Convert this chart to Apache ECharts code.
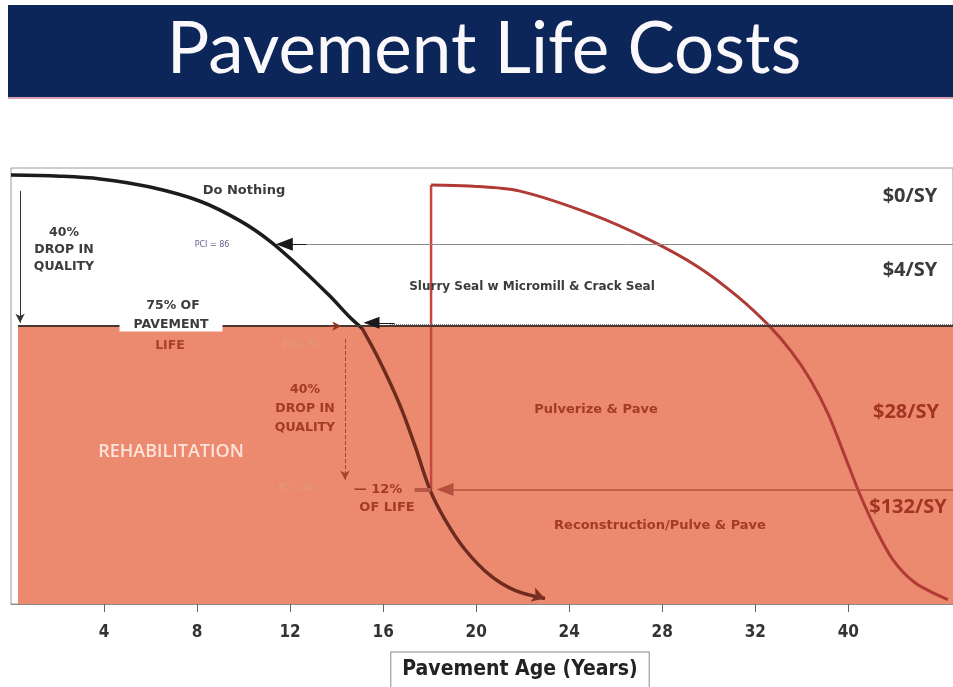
<!DOCTYPE html>
<html>
<head>
<meta charset="utf-8">
<script src="https://cdn.jsdelivr.net/npm/echarts@6/dist/echarts.min.js"></script>
<style>
  html, body { margin: 0; padding: 0; background: #fff; }
  #chart { width: 953px; height: 687px; }
</style>
</head>
<body>
<div id="chart"></div>
<script>
// tick positions (years) and the labels printed under them
var tickYears = [4, 8, 12, 16, 20, 24, 28, 32, 36];
var tickLabels = ['4', '8', '12', '16', '20', '24', '28', '32', '40'];

// "do nothing" deterioration curve [year, PCI]
var doNothing = [
  [0, 98.7], [2.1, 98.5], [3.83, 98.0], [5.98, 96.5], [8.13, 93.9], [9.85, 90.3],
  [11.13, 86.6], [12.42, 81.8], [13.71, 76.5], [14.57, 72.6], [15.09, 70.6],
  [15.86, 64.5], [16.72, 56.5], [17.37, 49], [18.01, 41], [18.66, 35.5],
  [19.52, 30], [20.59, 25.3], [21.67, 22.5], [22.96, 21.0]
];

// curve after treatment at year 18
var treated = [
  [18.06, 96.9], [19.69, 96.7], [21.84, 95.8], [24.97, 91.5], [27.41, 86.9],
  [29.56, 81.8], [31.27, 76.3], [32.65, 70.8], [33.55, 66.3], [34.36, 61.2],
  [35.14, 54.8], [35.91, 46.5], [36.51, 40.0], [37.15, 34.0], [37.92, 28.1],
  [38.87, 23.9], [40.28, 20.8]
];
var treatYear = 18.06;

// PCI levels marked on the chart
var pciLevels = [86, 71, 41];
var pciLabels = ['PCI = 86', 'PCI = 71', 'PCI = 41'];

var treatments = ['Do Nothing', 'Slurry Seal w Micromill & Crack Seal', 'Pulverize & Pave', 'Reconstruction/Pulve & Pave'];
var costs = ['$0/SY', '$4/SY', '$28/SY', '$132/SY'];

// split the do-nothing curve where it enters the rehabilitation band
var splitAt = 10;
var doNothingTop = doNothing.slice(0, splitAt + 1);
var doNothingLow = doNothing.slice(splitAt);

var myChart = echarts.init(document.getElementById('chart'));

var dark = '#3c3c3c';
var rust = '#a33c24';
var boldFont = "'DejaVu Sans', sans-serif";
var costFont = "'Open Sans', sans-serif";
var narrowFont = "'Liberation Sans Narrow', 'DejaVu Sans Condensed', sans-serif";

function txt(x, y, text, color, size, extra) {
  var style = {
    text: text, x: x, y: y, fill: color,
    font: 'bold ' + size + 'px ' + boldFont,
    align: 'center', verticalAlign: 'middle'
  };
  if (extra) {
    for (var k in extra) style[k] = extra[k];
  }
  return { type: 'text', z: 50, silent: true, style: style };
}

var option = {
  animation: false,
  grid: {
    left: 11, right: -2, top: 168, bottom: 83,
    show: true, borderColor: '#9a9a9a', borderWidth: 1, backgroundColor: '#fff'
  },
  xAxis: {
    type: 'value', min: 0, max: 40.5,
    splitLine: { show: false },
    axisLine: { show: true, lineStyle: { color: '#8a8a8a' } },
    axisTick: { show: true, customValues: tickYears, length: 8, lineStyle: { color: '#666' } },
    axisLabel: {
      customValues: tickYears, margin: 20,
      color: '#333', fontSize: 17, fontWeight: 'bold', fontFamily: narrowFont,
      formatter: function (v) { return tickLabels[tickYears.indexOf(v)]; }
    }
  },
  yAxis: {
    type: 'value', min: 20, max: 100, show: false
  },
  series: [
    {
      name: 'rehab', type: 'line', data: [[0, 20]], showSymbol: false, z: 1,
      lineStyle: { width: 0 },
      markArea: {
        silent: true,
        itemStyle: { color: '#ec8a6f' },
        data: [[{ coord: [0.3, 20] }, { coord: [40.5, pciLevels[1]] }]]
      },
      markLine: {
        silent: true, symbol: ['none', 'none'], label: { show: false },
        data: [
          // PCI 86 guide
          [{ coord: [40.5, pciLevels[0]], lineStyle: { color: '#8c8c8c', width: 1, type: 'solid' } },
           { coord: [12.6, pciLevels[0]] }],
          [{ coord: [12.7, pciLevels[0]], lineStyle: { color: '#1a1a1a', width: 1, type: 'solid' } },
           { coord: [11.75, pciLevels[0]], symbol: 'triangle', symbolSize: [13, 17] }],
          // rehabilitation threshold
          [{ coord: [0.3, pciLevels[1]], lineStyle: { color: '#4a3830', width: 2, type: 'solid' } },
           { coord: [40.5, pciLevels[1]] }],
          [{ coord: [40.5, pciLevels[1] + 0.4], lineStyle: { color: '#7a7a7a', width: 1, type: 'dotted' } },
           { coord: [16.3, pciLevels[1] + 0.4] }],
          [{ coord: [16.5, pciLevels[1] + 0.6], lineStyle: { color: '#1a1a1a', width: 1, type: 'solid' } },
           { coord: [15.5, pciLevels[1] + 0.6], symbol: 'triangle', symbolSize: [12, 16] }],
          [{ coord: [13.6, pciLevels[1]], lineStyle: { color: '#8a3422', width: 1, type: 'solid' } },
           { coord: [14.2, pciLevels[1]], symbol: 'arrow', symbolSize: [7, 9] }],
          // PCI 41 guide
          [{ coord: [40.5, pciLevels[2]], lineStyle: { color: '#b5503f', width: 1.5, type: 'solid' } },
           { coord: [18.66, pciLevels[2]], symbol: 'triangle', symbolSize: [13, 17] }],
          [{ coord: [17.35, pciLevels[2]], lineStyle: { color: '#b5584a', width: 4, type: 'solid' } },
           { coord: [18.06, pciLevels[2]] }],
          // left 40% drop arrow
          [{ coord: [0.39, 95.8], lineStyle: { color: '#333', width: 1, type: 'solid' } },
           { coord: [0.39, 71.6], symbol: 'arrow', symbolSize: [7, 9] }],
          // middle 40% drop arrow
          [{ coord: [14.36, 68.6], lineStyle: { color: '#a8432c', width: 1, type: 'dashed' } },
           { coord: [14.36, 42.8], symbol: 'arrow', symbolSize: [7, 9] }]
        ]
      }
    },
    {
      name: 'Do Nothing', type: 'line', data: doNothingTop, smooth: 0.35, z: 4,
      showSymbol: false,
      lineStyle: { width: 3.5, color: '#1c1c1c' }
    },
    {
      name: 'Do Nothing (rehab)', type: 'line', data: doNothingLow, smooth: 0.35, z: 4,
      showSymbol: true, showAllSymbol: true,
      symbol: function (v, p) { return p.dataIndex === doNothingLow.length - 1 ? 'arrow' : 'none'; },
      symbolSize: [11, 13], symbolRotate: -108,
      itemStyle: { color: '#7a2f20' },
      lineStyle: { width: 3.5, color: '#6e2b1e' }
    },
    {
      name: 'treatment', type: 'line', z: 3, showSymbol: false,
      data: [[treatYear, pciLevels[2]], [treatYear, treated[0][1]]],
      lineStyle: { color: '#c9463e', width: 2.5 }
    },
    {
      name: 'treated', type: 'line', data: treated, smooth: 0.3, z: 3, showSymbol: false,
      lineStyle: { color: '#b03a35', width: 3 }
    }
  ],
  graphic: [
    { type: 'rect', z: 40, silent: true, shape: { x: 8, y: 5, width: 945, height: 93 },
      style: { fill: '#0c2659' } },
    { type: 'rect', z: 40, silent: true, shape: { x: 8, y: 97, width: 945, height: 2 },
      style: { fill: '#d9a0b0' } },
    { type: 'text', z: 41, silent: true,
      style: { text: 'Pavement Life Costs', x: 484, y: 50, fill: '#fbf8fb',
        font: '71px Lato, sans-serif', align: 'center', verticalAlign: 'middle',
        shadowColor: 'rgba(230,120,160,0.6)', shadowBlur: 2 } },

    // x axis title box
    { type: 'text', z: 41, silent: true,
      style: { text: 'Pavement Age (Years)', x: 520, y: 670, fill: '#222',
        font: 'bold 21px ' + narrowFont, align: 'center', verticalAlign: 'middle',
        backgroundColor: '#fff', borderColor: '#8a8a8a', borderWidth: 1, padding: [7, 11, 7, 11] } },

    txt(244, 191, treatments[0], dark, 13),
    txt(64, 250, '40%\nDROP IN\nQUALITY', dark, 12.5, { lineHeight: 17 }),
    txt(212, 245, pciLabels[0], '#6b5f8f', 8, { font: '8px ' + boldFont }),
    txt(173, 306, '75% OF', dark, 12.5),
    txt(171, 325, 'PAVEMENT', dark, 12.5, { backgroundColor: '#fff', padding: [0, 14, 0, 14] }),
    txt(170, 346, 'LIFE', '#a8402a', 12.5),
    txt(300, 345, pciLabels[1], '#dc9d88', 8, { font: '8px ' + boldFont }),
    txt(296, 488, pciLabels[2], '#dc9d88', 8, { font: '8px ' + boldFont }),
    txt(305, 409, '40%\nDROP IN\nQUALITY', rust, 12.5, { lineHeight: 19 }),
    txt(378, 490, '— 12%', rust, 13),
    txt(387, 508, 'OF LIFE', rust, 13),
    txt(532, 287, treatments[1], dark, 12),
    txt(596, 410, treatments[2], rust, 13),
    txt(660, 526, treatments[3], rust, 13),
    txt(171, 452, 'REHABILITATION', '#fde3da', 18, { font: '600 18px ' + costFont }),

    txt(910, 196, costs[0], '#3a3a3a', 20, { font: 'bold 20px ' + costFont }),
    txt(910, 270, costs[1], '#3a3a3a', 20, { font: 'bold 20px ' + costFont }),
    txt(906, 412, costs[2], '#a33424', 20, { font: 'bold 20px ' + costFont }),
    txt(908, 507, costs[3], '#a33424', 20, { font: 'bold 20px ' + costFont })
  ]
};

myChart.setOption(option);
</script>
</body>
</html>
